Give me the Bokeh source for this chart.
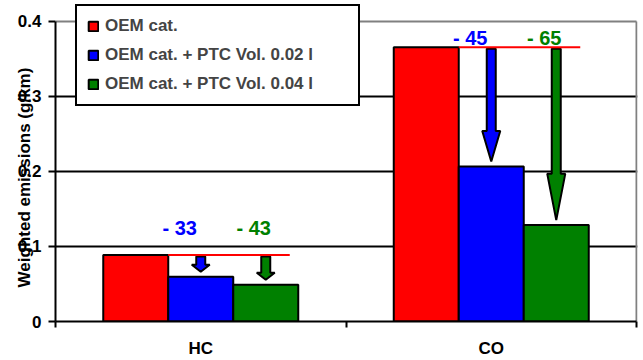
import numpy as np
from bokeh.plotting import figure
from bokeh.models import Range1d, FixedTicker, Legend, LegendItem
from bokeh.core.properties import value
from bokeh.embed import file_html
from bokeh.resources import INLINE

# ---- data ----
categories = ["HC", "CO"]
series_names = ["OEM cat.", "OEM cat. + PTC Vol. 0.02 l", "OEM cat. + PTC Vol. 0.04 l"]
oem = [0.0887, 0.3656]
ptc_002 = [0.0596, 0.2066]
ptc_004 = [0.0490, 0.1285]
labels_002 = ["- 33", "- 45"]
labels_004 = ["- 43", "- 65"]
y_ticks = [0, 0.1, 0.2, 0.3, 0.4]
y_tick_labels = ["0", "0.1", "0.2", "0.3", "0.4"]
y_title = "Weighted emissions (g/km)"
colors = ["#FF0000", "#0000FF", "#008000"]

# ---- layout / style ----
FONT = "Liberation Sans"
FS = "17px"
W, H = 643, 360
BL, BR, BT, BB = 55, 6, 0, 38
frame_w = W - BL - BR          # 582
frame_h = H - BT - BB          # 322
XMAX, YMAX = 2.0, 0.4
px_x = XMAX / (frame_w - 1)
px_y = YMAX / (frame_h - 21)
bar_w = 65 * px_x
label_lift_px = [27, 9]
label_dx_px = [-21, -12]

p = figure(width=W, height=H,
           x_range=Range1d(0, XMAX + 1 * px_x), y_range=Range1d(0, YMAX + 21 * px_y),
           output_backend="svg", toolbar_location=None,
           min_border_left=BL, min_border_right=BR, min_border_top=BT, min_border_bottom=BB)
p.background_fill_color = "white"
p.border_fill_color = "white"
p.outline_line_color = None

p.ygrid.ticker = FixedTicker(ticks=y_ticks[1:-1])
p.ygrid.grid_line_color = "black"
p.ygrid.grid_line_width = 2
p.xgrid.visible = False

# gray plot-area border (top and right)
p.segment(x0=[0, XMAX], x1=[XMAX, XMAX], y0=[YMAX, 0], y1=[YMAX, YMAX],
          line_color="#808080", line_width=2)

centers = np.arange(len(categories)) + 0.5
series = [oem, ptc_002, ptc_004]
renderers = []
for i, (vals, col) in enumerate(zip(series, colors)):
    r = p.vbar(x=centers + (i - 1) * bar_w, top=vals, width=bar_w,
               fill_color=col, line_color="black", line_width=2)
    renderers.append(r)

# arrows from OEM level down to each PTC bar
def arrow_poly(xc, y0, y1):
    L = y0 - y1
    hl = max(0.27 * L, 7 * px_y)
    sw, hw = 4.5 * px_x, 9 * px_x
    yh = y1 + hl
    return ([xc - sw, xc + sw, xc + sw, xc + hw, xc, xc - hw, xc - sw],
            [y0, y0, yh, yh, y1, yh, yh])

for k, (vals, col, labs) in enumerate([(ptc_002, colors[1], labels_002), (ptc_004, colors[2], labels_004)]):
    xs_all, ys_all = [], []
    ax = centers + k * bar_w
    for j in range(len(categories)):
        xs, ys = arrow_poly(ax[j], oem[j] - 1.5 * px_y, vals[j] + 5 * px_y)
        xs_all.append(xs)
        ys_all.append(ys)
    p.patches(xs_all, ys_all, fill_color=col, line_color="black", line_width=2)
    p.text(x=ax + label_dx_px[k] * px_x, y=np.array(oem) + np.array(label_lift_px) * px_y, text=labs,
           text_color=col, text_font=value(FONT), text_font_style="bold", text_font_size="20px",
           text_align="center", text_baseline="alphabetic")

# red reference lines at OEM level
p.segment(x0=centers - 0.5 * bar_w, x1=centers + bar_w + 24 * px_x, y0=oem, y1=oem,
          line_color="#FF0000", line_width=2)

# axes
for ax_ in (p.xaxis, p.yaxis):
    ax_.axis_line_color = "black"
    ax_.axis_line_width = 2
    ax_.major_label_text_font = FONT
    ax_.major_label_text_font_style = "bold"
    ax_.major_label_text_font_size = FS
    ax_.major_label_text_color = "black"

p.yaxis.bounds = (0, YMAX)
p.yaxis.ticker = FixedTicker(ticks=y_ticks)
p.yaxis.major_label_overrides = dict(zip(y_ticks, y_tick_labels))
p.yaxis.major_tick_line_width = 2
p.yaxis.major_tick_line_color = "black"
p.yaxis.major_tick_out = 7
p.yaxis.major_tick_in = 0
p.yaxis.minor_tick_out = 0
p.yaxis.minor_tick_in = 0
p.yaxis.major_label_standoff = 7
# trailing no-break spaces push the centred title down toward the plot-area centre
p.yaxis.axis_label = y_title + "\u00a0" * 7
p.yaxis.axis_label_standoff = -19
p.yaxis.axis_label_text_font = FONT
p.yaxis.axis_label_text_font_style = "bold"
p.yaxis.axis_label_text_font_size = FS
p.yaxis.axis_label_text_color = "black"

p.xaxis.bounds = (0, XMAX)
p.xaxis.ticker = FixedTicker(ticks=list(centers), minor_ticks=[0, 1, 2])
p.xaxis.major_label_overrides = dict(zip(list(centers), categories))
p.xaxis.major_tick_out = 0
p.xaxis.major_tick_in = 0
p.xaxis.minor_tick_out = 6
p.xaxis.minor_tick_in = 0
p.xaxis.minor_tick_line_width = 2
p.xaxis.minor_tick_line_color = "black"
p.xaxis.major_label_standoff = 11

legend = Legend(items=[LegendItem(label=n, renderers=[r]) for n, r in zip(series_names, renderers)],
                location=(20, 215), padding=10, spacing=9, label_height=20,
                glyph_width=12, glyph_height=12, label_standoff=6, label_width=243,
                border_line_color="black", border_line_width=2, border_line_alpha=1,
                background_fill_color="white", background_fill_alpha=1,
                label_text_font=FONT, label_text_font_style="bold", label_text_font_size=FS)
p.add_layout(legend)

open("out.html", "w").write(file_html(p, INLINE))
